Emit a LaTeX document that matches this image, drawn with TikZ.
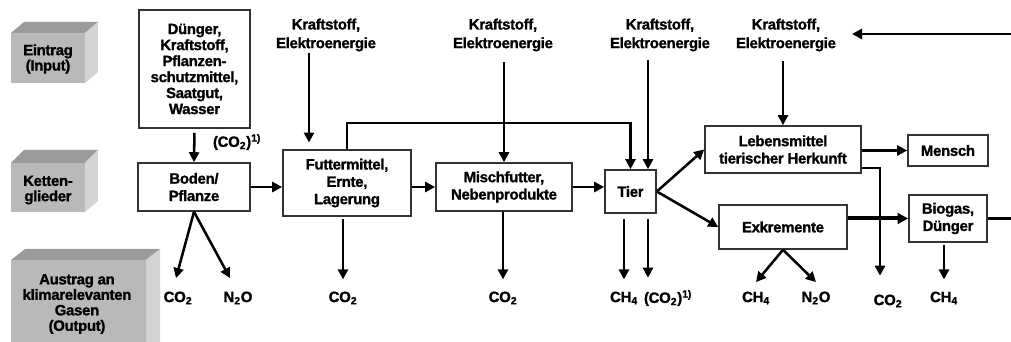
\documentclass[tikz,border=0pt]{standalone}
\usepackage{fontspec}
\setmainfont{Liberation Sans}[BoldFeatures={FakeBold=1.2,LetterSpace=-2}]
\usetikzlibrary{arrows.meta}
\definecolor{cubetop}{HTML}{9B9B9B}
\definecolor{cubefront}{HTML}{B9B9B9}
\definecolor{cubeside}{HTML}{D3D3D3}
\definecolor{boxline}{HTML}{333333}
\begin{document}
\begin{tikzpicture}[x=0.75pt,y=-0.75pt,
  txt/.style={font=\bfseries\fontsize{11.2}{13}\selectfont, align=center, inner sep=0pt},
  box/.style={txt, draw=boxline, line width=1.2pt, fill=white},
  arr/.style={line width=1.9pt, -{Triangle[length=7.5pt,width=7.5pt]}},
  thickarr/.style={line width=3pt, -{Triangle[length=8pt,width=8pt]}},
  ln/.style={line width=1.9pt},
  ctop/.style={fill=cubetop},
  cfront/.style={fill=cubefront},
  cside/.style={fill=cubeside},
  ]
\useasboundingbox (0,0) rectangle (1011,342);

% --- left cubes ---
\fill[ctop] (11,33) -- (24,22) -- (98,22) -- (85,33) -- cycle;
\fill[cside] (85,33) -- (98,22) -- (98,72) -- (85,83) -- cycle;
\fill[cfront] (11,33) rectangle (85,83);
\node[txt, font=\bfseries\fontsize{11.2}{11.5}\selectfont] (ein) at (48,59) {Eintrag\\(Input)};

\fill[ctop] (11,163) -- (24,150) -- (98,150) -- (85,163) -- cycle;
\fill[cside] (85,163) -- (98,150) -- (98,201) -- (85,212) -- cycle;
\fill[cfront] (11,163) rectangle (85,212);
\node[txt, font=\bfseries\fontsize{11.2}{11.5}\selectfont] (ket) at (48,190) {Ketten-\\glieder};

\fill[ctop] (11,260) -- (25,249) -- (160,249) -- (146,260) -- cycle;
\fill[cside] (146,260) -- (160,249) -- (160,342) -- (146,342) -- cycle;
\fill[cfront] (11,260) rectangle (146,342);
\node[txt, font=\bfseries\fontsize{11.2}{11.6}\selectfont] (aus) at (77,304) {Austrag an\\klimarelevanten\\Gasen\\(Output)};

% --- boxes ---
\node[box, font=\bfseries\fontsize{11.2}{12}\selectfont, minimum width=83.25pt, minimum height=88.5pt] (inp) at (194.5,69) {D\"unger,\\Kraftstoff,\\Pflanzen-\\schutzmittel,\\Saatgut,\\Wasser};
\node[box, minimum width=84pt, minimum height=36pt] (boden) at (194,187) {Boden/\\Pflanze};
\node[box, minimum width=96pt, minimum height=49.5pt] (futter) at (347,183) {Futtermittel,\\Ernte,\\Lagerung};
\node[box, minimum width=102pt, minimum height=36pt] (misch) at (504,187) {Mischfutter,\\Nebenprodukte};
\node[box, minimum width=38.25pt, minimum height=32.25pt] (tier) at (630.5,191.5) {Tier};
\node[box, minimum width=117pt, minimum height=35.25pt] (lebens) at (783,149.5) {Lebensmittel\\tierischer Herkunft};
\node[box, minimum width=96pt, minimum height=33pt] (exkr) at (783,227) {Exkremente};
\node[box, minimum width=60pt, minimum height=23.25pt] (mensch) at (948,150.5) {Mensch};
\node[box, minimum width=58.5pt, minimum height=35.25pt] (biogas) at (948,218.5) {Biogas,\\D\"unger};

% --- input labels ---
\tikzset{kstyle/.style={txt, font=\bfseries\fontsize{11.2}{14}\selectfont}}
\node[kstyle] (k1) at (326,35) {Kraftstoff,\\Elektroenergie};
\node[kstyle] (k2) at (503,35) {Kraftstoff,\\Elektroenergie};
\node[kstyle] (k3) at (660,35) {Kraftstoff,\\Elektroenergie};
\node[kstyle] (k4) at (786,35) {Kraftstoff,\\Elektroenergie};
\node[txt] (co2in) at (237,142) {(CO\textsubscript{2})\textsuperscript{1)}};

% --- output labels ---
\node[txt] (o1) at (178,298) {CO\textsubscript{2}};
\node[txt] (o2) at (238,298) {N\textsubscript{2}O};
\node[txt] (o3) at (343,298) {CO\textsubscript{2}};
\node[txt] (o4) at (503,298) {CO\textsubscript{2}};
\node[txt] (o5) at (624,298) {CH\textsubscript{4}};
\node[txt] (o6) at (668,298) {(CO\textsubscript{2})\textsuperscript{1)}};
\node[txt] (o7) at (756,298) {CH\textsubscript{4}};
\node[txt] (o8) at (816,298) {N\textsubscript{2}O};
\node[txt] (o9) at (888,301) {CO\textsubscript{2}};
\node[txt] (o10) at (944,298) {CH\textsubscript{4}};

\coordinate (edgeA) at (1011,34);
\coordinate (tipA) at (852,34);
\coordinate (edgeB) at (1011,218.5);

% --- connectors ---
\draw[arr, shorten <=3pt] (inp.south) -- (boden.north);
\draw[arr] (boden.east) -- (boden.east -| futter.west);
\draw[arr] (misch.west -| futter.east) -- (misch.west);
\draw[arr] (misch.east) -- (misch.east -| tier.west);
\draw[arr] (tier.east) -- (lebens.west);
\draw[arr] (tier.east) -- (exkr.west);
\draw[arr] (lebens.east |- mensch.west) -- (mensch.west);
\draw[thickarr] (exkr.east |- biogas.west) -- (biogas.west);
\draw[ln] (biogas.east) -- (edgeB);
\draw[arr] (edgeA) -- (tipA);

\draw[arr, shorten <=1pt, shorten >=5pt] ([xshift=-12.75pt]k1.south) coordinate (k1s) -- (k1s |- futter.north);
\draw[arr, shorten <=8pt] (k2.south -| misch.north) -- (misch.north);
\draw[arr, shorten <=6pt] ([xshift=-9pt]k3.south) coordinate (k3s) -- (k3s |- tier.north);
\draw[arr, shorten <=7pt] (k4.south -| lebens.north) -- (lebens.north);
\draw[arr] (futter.north) -- ++(0,-26) -| (tier.north);

\draw[arr] (boden.south) -- ([xshift=-1.5pt,yshift=10pt]o1.north);
\draw[arr] (boden.south) -- ([xshift=-6pt,yshift=10pt]o2.north);
\draw[arr, shorten <=2pt, shorten >=9pt] (o3.north |- futter.south) -- (o3.north);
\draw[arr, shorten >=9pt] (o4.north |- misch.south) -- (o4.north);
\draw[arr, shorten <=4pt, shorten >=9pt] ([xshift=-4.9pt]tier.south) coordinate (t1) -- (t1 |- o5.north);
\draw[arr, shorten <=4pt, shorten >=9pt] ([xshift=13.1pt]tier.south) coordinate (t2) -- (t2 |- o6.north);
\draw[arr] (exkr.south) -- ([yshift=7pt]o7.north);
\draw[arr] (exkr.south) -- ([yshift=7pt]o8.north);
\draw[arr] ([yshift=4.5pt]lebens.south east) -| ([xshift=-6pt,yshift=14pt]o9.north);
\draw[arr, shorten <=2pt, shorten >=9pt] (o10.north |- biogas.south) -- (o10.north);
\end{tikzpicture}
\end{document}
